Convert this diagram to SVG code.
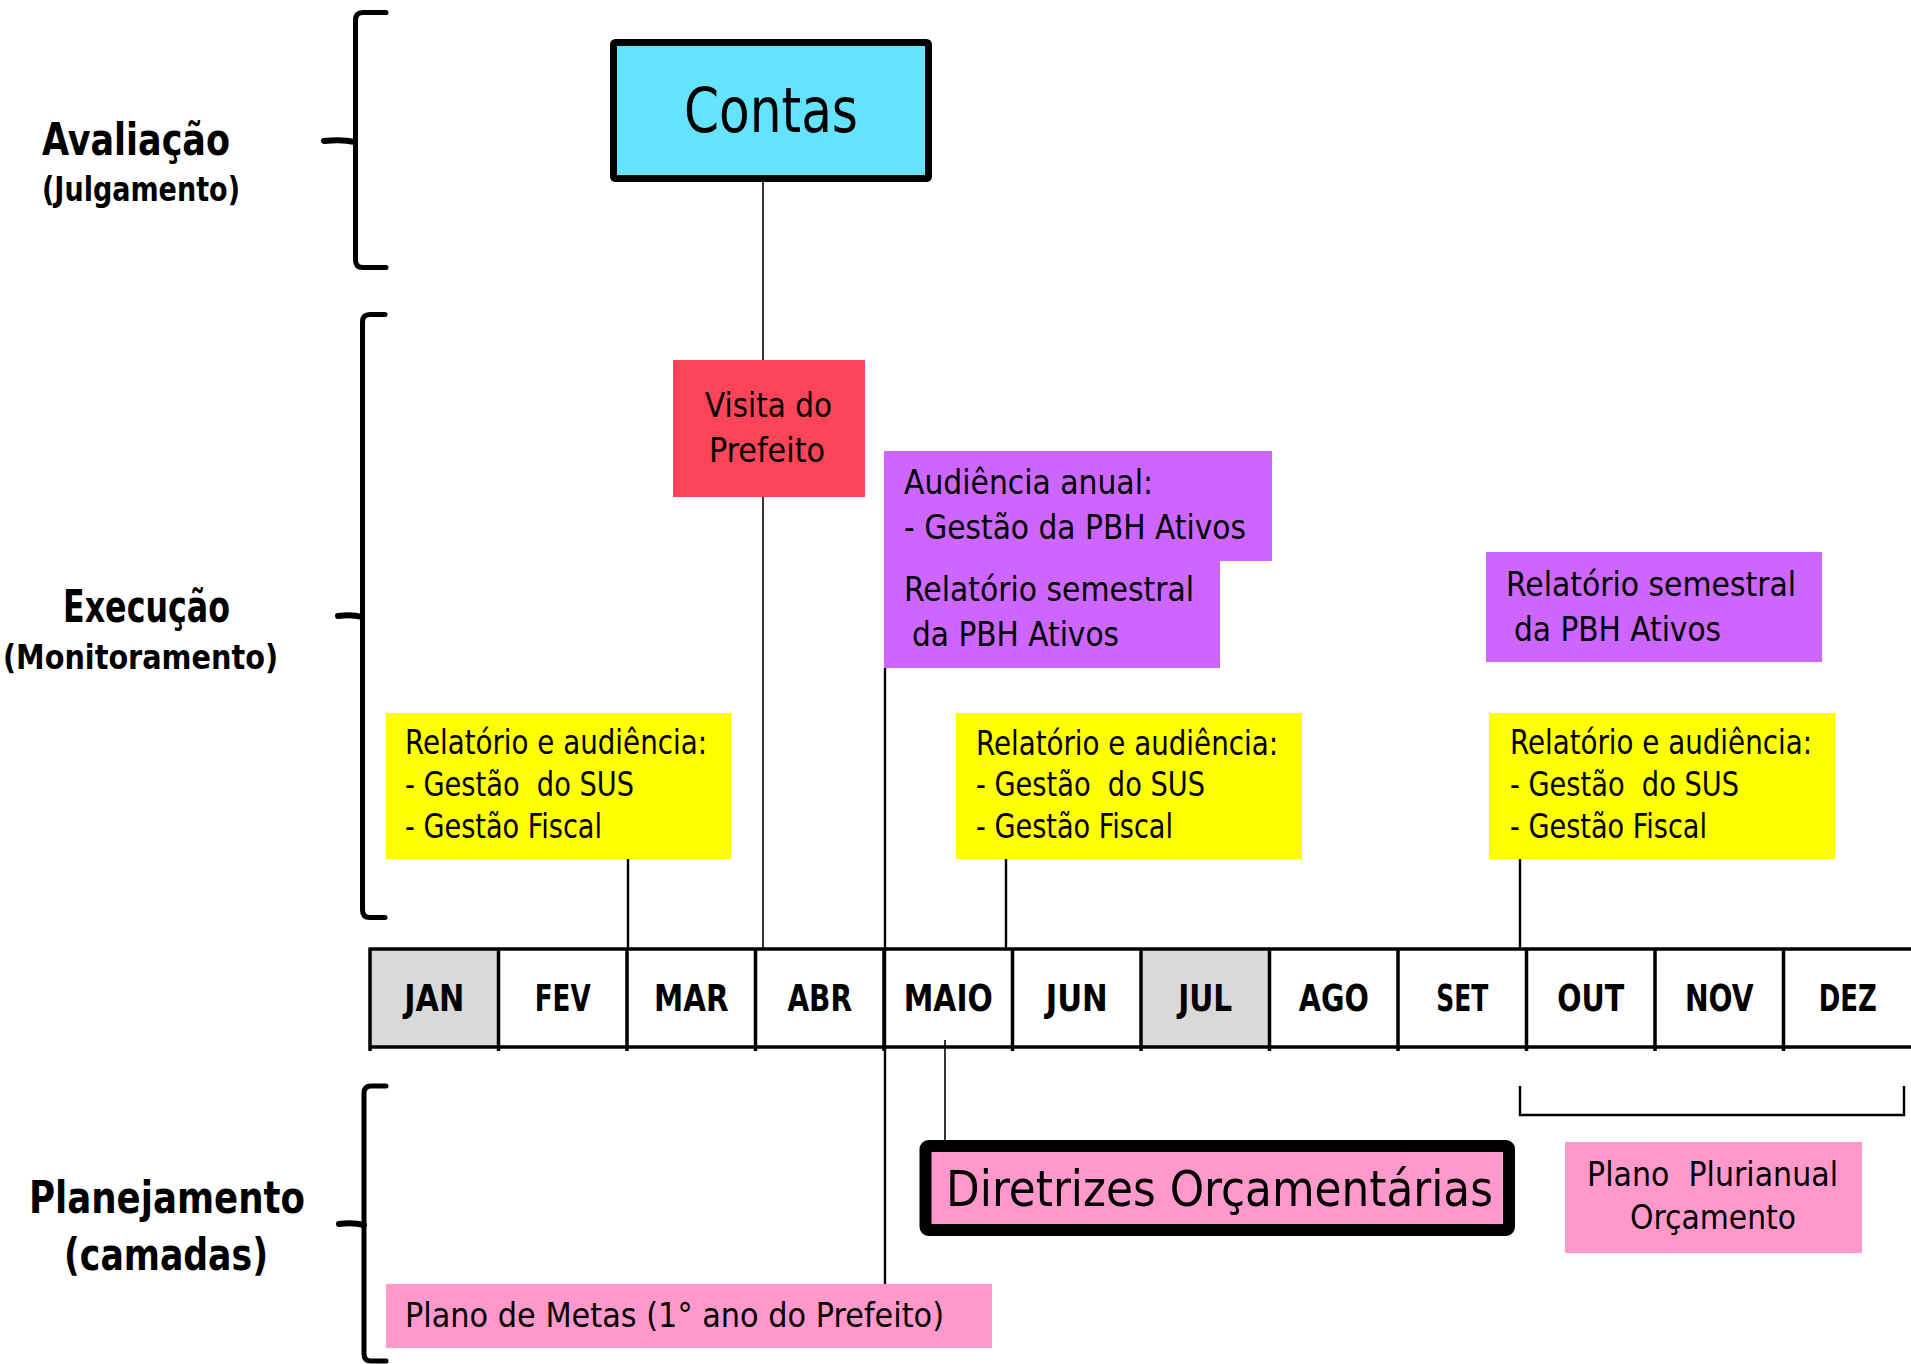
<svg xmlns="http://www.w3.org/2000/svg" width="1911" height="1364" viewBox="0 0 1911 1364">
<style>
text{font-family:"Liberation Sans Narrow","DejaVu Sans Condensed","Liberation Sans",sans-serif;fill:#000}
.b{font-weight:bold}
.lbl{font-size:44px;font-weight:bold}
.sub{font-size:34px;font-weight:bold}
.t{font-size:33px}
.m{font-size:37px;font-weight:bold}
.brace{fill:none;stroke:#000;stroke-width:5;stroke-linecap:round;stroke-linejoin:round}
.spur{fill:none;stroke:#000;stroke-width:6;stroke-linecap:round}
.conn{fill:none;stroke:#000;stroke-width:1.6}
.conn2{fill:none;stroke:#000;stroke-width:2.4}
.grid{stroke:#000;stroke-width:3.5;fill:none}
.yellow{fill:#FFFF00}
.purple{fill:#CC66FF}
.pink{fill:#FF99CC}
</style>
<rect width="1911" height="1364" fill="#fff"/>

<g id="labels">
  <g id="lbl-avaliacao">
    <path class="brace" d="M386,12.5 H363 Q355.5,12.5 355.5,20 V260 Q355.5,267.5 363,267.5 H386"/>
    <path class="spur" d="M324,141 Q342,139 355,142"/>
    <text class="lbl" x="42" y="155" textLength="188" lengthAdjust="spacingAndGlyphs">Avaliação</text>
    <text class="sub" x="42" y="201" textLength="198" lengthAdjust="spacingAndGlyphs">(Julgamento)</text>
  </g>
  <g id="lbl-execucao">
    <path class="brace" d="M385,314.5 H370 Q362.5,314.5 362.5,322 V910 Q362.5,917.5 370,917.5 H385"/>
    <path class="spur" d="M338,616 Q352,614 362,617"/>
    <text class="lbl" x="63" y="622" font-size="40" textLength="167" lengthAdjust="spacingAndGlyphs">Execução</text>
    <text class="sub" x="3" y="669" textLength="275" lengthAdjust="spacingAndGlyphs">(Monitoramento)</text>
  </g>
  <g id="lbl-planejamento">
    <path class="brace" d="M386,1086 H371 Q364,1086 364,1093 V1354 Q364,1361 371,1361 H386"/>
    <path class="spur" d="M339,1224 Q353,1222 364,1225"/>
    <text class="lbl" x="29" y="1213" textLength="276" lengthAdjust="spacingAndGlyphs">Planejamento</text>
    <text class="lbl" x="64" y="1270" textLength="204" lengthAdjust="spacingAndGlyphs">(camadas)</text>
  </g>
</g>

<g id="connectors">
  <line class="conn" x1="763" y1="182" x2="763" y2="949"/>
  <line class="conn2" x1="885" y1="668" x2="885" y2="1284"/>
  <line class="conn2" x1="628" y1="859" x2="628" y2="949"/>
  <line class="conn2" x1="1006" y1="859" x2="1006" y2="949"/>
  <line class="conn2" x1="1520" y1="859" x2="1520" y2="949"/>
  <line class="conn" x1="945" y1="1040" x2="945" y2="1140"/>
  <path class="conn2" d="M1520,1086 V1115 H1904 V1086"/>
</g>

<g id="timeline">
  <rect x="370" y="949" width="128.5" height="98" fill="#D9D9D9"/>
  <rect x="1141" y="949" width="128.5" height="98" fill="#D9D9D9"/>
  <line class="grid" x1="370" y1="949" x2="1911" y2="949"/>
  <line class="grid" x1="370" y1="1047" x2="1911" y2="1047"/>
  <path class="grid" d="M370,947.5 V1051 M498.5,949 V1051 M627,949 V1051 M755.5,949 V1051 M884,949 V1051 M1012.5,949 V1051 M1141,949 V1051 M1269.5,949 V1051 M1398,949 V1051 M1526.5,949 V1051 M1655,949 V1051 M1783.5,949 V1051"/>
  <text class="m" x="404.25" y="1011" textLength="60" lengthAdjust="spacingAndGlyphs">JAN</text>
  <text class="m" x="534.75" y="1011" textLength="56" lengthAdjust="spacingAndGlyphs">FEV</text>
  <text class="m" x="654" y="1011" textLength="74.5" lengthAdjust="spacingAndGlyphs">MAR</text>
  <text class="m" x="787.4" y="1011" textLength="64.7" lengthAdjust="spacingAndGlyphs">ABR</text>
  <text class="m" x="903.75" y="1011" textLength="89" lengthAdjust="spacingAndGlyphs">MAIO</text>
  <text class="m" x="1045.75" y="1011" textLength="62" lengthAdjust="spacingAndGlyphs">JUN</text>
  <text class="m" x="1178.25" y="1011" textLength="54" lengthAdjust="spacingAndGlyphs">JUL</text>
  <text class="m" x="1298.75" y="1011" textLength="70" lengthAdjust="spacingAndGlyphs">AGO</text>
  <text class="m" x="1436.25" y="1011" textLength="52" lengthAdjust="spacingAndGlyphs">SET</text>
  <text class="m" x="1557.25" y="1011" textLength="67" lengthAdjust="spacingAndGlyphs">OUT</text>
  <text class="m" x="1684.95" y="1011" textLength="68.6" lengthAdjust="spacingAndGlyphs">NOV</text>
  <text class="m" x="1818.75" y="1011" textLength="58" lengthAdjust="spacingAndGlyphs">DEZ</text>
</g>

<g id="contas">
  <rect x="613.5" y="42.5" width="315" height="136" rx="2" fill="#66E3FC" stroke="#000" stroke-width="7"/>
  <text x="684" y="132" font-size="62" textLength="174" lengthAdjust="spacingAndGlyphs">Contas</text>
</g>

<g id="visita">
  <rect x="673" y="360" width="192" height="137" fill="#FC4459"/>
  <text class="t" x="705" y="417" font-size="35" textLength="127" lengthAdjust="spacingAndGlyphs">Visita do</text>
  <text class="t" x="709" y="462" font-size="35" textLength="116" lengthAdjust="spacingAndGlyphs">Prefeito</text>
</g>

<g id="audiencia-anual">
  <rect class="purple" x="884" y="451" width="388" height="110"/>
  <text class="t" x="904" y="494" textLength="249" lengthAdjust="spacingAndGlyphs">Audiência anual:</text>
  <text class="t" x="904" y="539" textLength="342" lengthAdjust="spacingAndGlyphs">- Gestão da PBH Ativos</text>
</g>

<g id="relatorio-semestral-1">
  <rect class="purple" x="884" y="560" width="336" height="108"/>
  <text class="t" x="904" y="601" textLength="290" lengthAdjust="spacingAndGlyphs">Relatório semestral</text>
  <text class="t" x="912" y="646" textLength="207" lengthAdjust="spacingAndGlyphs">da PBH Ativos</text>
</g>

<g id="relatorio-semestral-2">
  <rect class="purple" x="1486" y="552" width="336" height="110"/>
  <text class="t" x="1506" y="596" textLength="290" lengthAdjust="spacingAndGlyphs">Relatório semestral</text>
  <text class="t" x="1514" y="641" textLength="207" lengthAdjust="spacingAndGlyphs">da PBH Ativos</text>
</g>

<g id="relatorio-audiencia-1">
  <rect class="yellow" x="386" y="713" width="345" height="146"/>
  <text class="t" x="405" y="754" textLength="302" lengthAdjust="spacingAndGlyphs">Relatório e audiência:</text>
  <text class="t" x="405" y="796" textLength="229" lengthAdjust="spacingAndGlyphs" xml:space="preserve">- Gestão  do SUS</text>
  <text class="t" x="405" y="838" textLength="197" lengthAdjust="spacingAndGlyphs">- Gestão Fiscal</text>
</g>

<g id="relatorio-audiencia-2">
  <rect class="yellow" x="956" y="713" width="346" height="146"/>
  <text class="t" x="976" y="755" textLength="302" lengthAdjust="spacingAndGlyphs">Relatório e audiência:</text>
  <text class="t" x="976" y="796" textLength="229" lengthAdjust="spacingAndGlyphs" xml:space="preserve">- Gestão  do SUS</text>
  <text class="t" x="976" y="838" textLength="197" lengthAdjust="spacingAndGlyphs">- Gestão Fiscal</text>
</g>

<g id="relatorio-audiencia-3">
  <rect class="yellow" x="1489" y="713" width="346" height="146"/>
  <text class="t" x="1510" y="754" textLength="302" lengthAdjust="spacingAndGlyphs">Relatório e audiência:</text>
  <text class="t" x="1510" y="796" textLength="229" lengthAdjust="spacingAndGlyphs" xml:space="preserve">- Gestão  do SUS</text>
  <text class="t" x="1510" y="838" textLength="197" lengthAdjust="spacingAndGlyphs">- Gestão Fiscal</text>
</g>

<g id="diretrizes">
  <rect x="925.5" y="1146" width="583.5" height="84" rx="3" fill="#FF99CC" stroke="#000" stroke-width="12"/>
  <text x="946" y="1206" font-size="50" textLength="547" lengthAdjust="spacingAndGlyphs">Diretrizes Orçamentárias</text>
</g>

<g id="plano-plurianual">
  <rect class="pink" x="1565" y="1142" width="297" height="111"/>
  <text class="t" x="1587" y="1186" font-size="35" textLength="251" lengthAdjust="spacingAndGlyphs" xml:space="preserve">Plano  Plurianual</text>
  <text class="t" x="1630" y="1229" font-size="35" textLength="166" lengthAdjust="spacingAndGlyphs">Orçamento</text>
</g>

<g id="plano-metas">
  <rect class="pink" x="386" y="1284" width="606" height="64"/>
  <text class="t" x="405" y="1327" textLength="539" lengthAdjust="spacingAndGlyphs">Plano de Metas (1° ano do Prefeito)</text>
</g>
</svg>
